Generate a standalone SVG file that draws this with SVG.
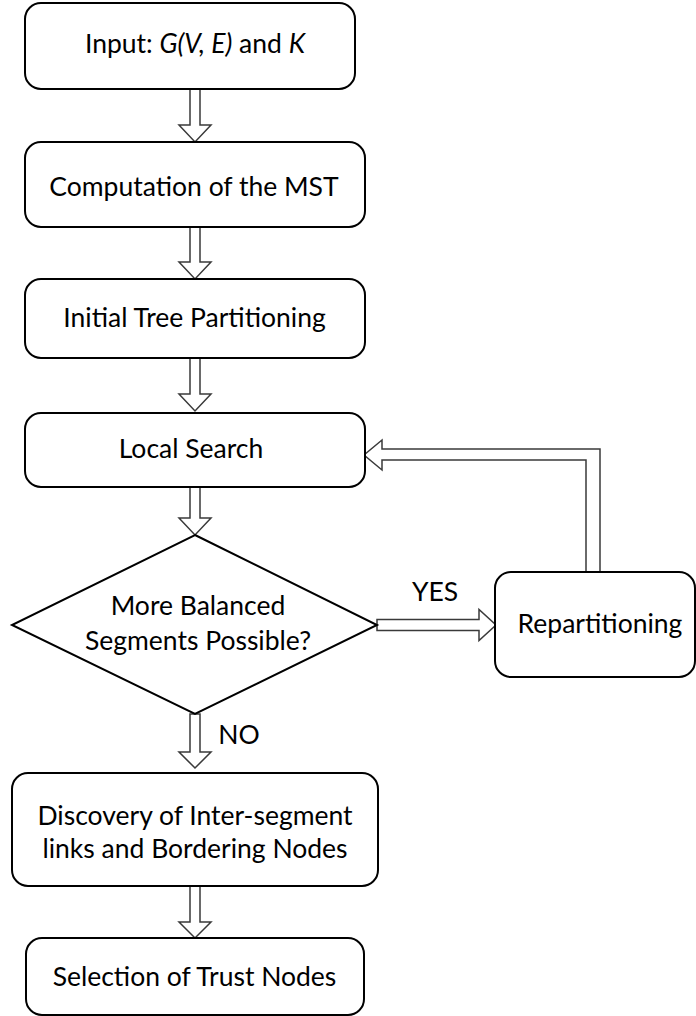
<svg xmlns="http://www.w3.org/2000/svg" width="696" height="1016" viewBox="0 0 696 1016">
  <style>
    .box { fill: #ffffff; stroke: #000000; stroke-width: 2; }
    .arrow { fill: #ffffff; stroke: #3a3a3a; stroke-width: 1.5; stroke-linejoin: miter; }
    .label { font-family: Lato, "Liberation Sans", sans-serif; font-size: 26.5px; fill: #000000; text-anchor: middle; }
    .it { font-style: italic; }
  </style>
  <rect width="696" height="1016" fill="#ffffff"/>

  <!-- hollow block arrows between the steps -->
  <g id="connectors">
    <path class="arrow" d="M190,89 V125 H179 L195,142 L211,125 H200 V89 Z"/>
    <path class="arrow" d="M190,227 V262 H179 L195,279 L211,262 H200 V227 Z"/>
    <path class="arrow" d="M190,358 V394 H179 L195,411 L211,394 H200 V358 Z"/>
    <path class="arrow" d="M190,487 V518 H179 L195,535 L211,518 H200 V487 Z"/>
    <path class="arrow" d="M377,619.5 H479 V609.5 L496,625 L479,640.5 V630.5 H377 Z"/>
    <path class="arrow" d="M600,572 V449 H382 V440 L364,455 L382,470 V460 H586 V572"/>
    <path class="arrow" d="M190,714 V752 H179 L195,768 L211,752 H200 V714 Z"/>
    <path class="arrow" d="M190,886 V922 H179 L195,938 L211,922 H200 V886 Z"/>
    <text class="label" x="435" y="601">YES</text>
    <text class="label" x="239" y="744">NO</text>
  </g>

  <g id="input">
    <rect class="box" x="25" y="3" width="330" height="86" rx="16"/>
    <text class="label" x="195" y="53">Input: <tspan class="it">G(V, E)</tspan> and <tspan class="it">K</tspan></text>
  </g>

  <g id="mst">
    <rect class="box" x="25" y="142" width="340" height="85" rx="16"/>
    <text class="label" x="194" y="196">Computation of the MST</text>
  </g>

  <g id="initial-partitioning">
    <rect class="box" x="25" y="279" width="340" height="79" rx="16"/>
    <text class="label" x="194.5" y="327">Initial Tree Partitioning</text>
  </g>

  <g id="local-search">
    <rect class="box" x="25" y="413" width="340" height="74" rx="16"/>
    <text class="label" x="191" y="458">Local Search</text>
  </g>

  <g id="balanced-decision">
    <polygon class="box" points="195,535 377,625 195,714 12,625"/>
    <text class="label" x="198" y="615">More Balanced</text>
    <text class="label" x="198" y="650">Segments Possible?</text>
  </g>

  <g id="repartitioning">
    <rect class="box" x="495" y="572" width="200" height="105" rx="16"/>
    <text class="label" x="600" y="633">Repartitioning</text>
  </g>

  <g id="discovery">
    <rect class="box" x="12" y="773" width="366" height="113" rx="16"/>
    <text class="label" x="195" y="825">Discovery of Inter-segment</text>
    <text class="label" x="195" y="858">links and Bordering Nodes</text>
  </g>

  <g id="trust-selection">
    <rect class="box" x="26" y="938" width="338" height="77" rx="16"/>
    <text class="label" x="194.5" y="986">Selection of Trust Nodes</text>
  </g>
</svg>
